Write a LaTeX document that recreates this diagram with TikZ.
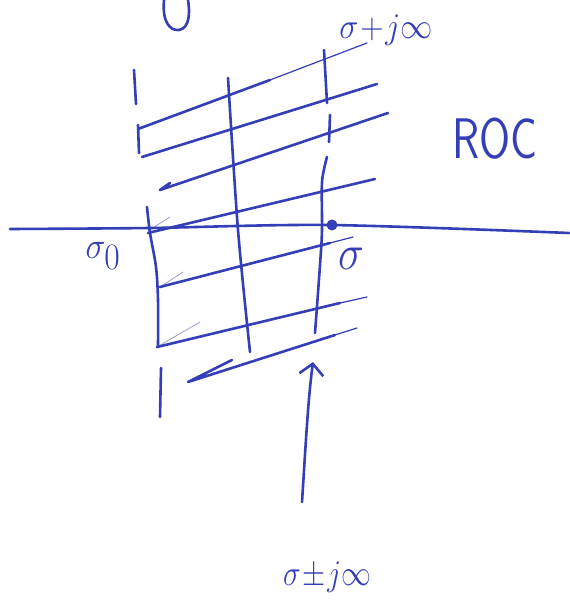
\documentclass[tikz,border=0pt]{standalone}
\usepackage{graphicx}
\usetikzlibrary{arrows.meta}
\definecolor{ink}{RGB}{52,62,182}
\begin{document}
\begin{tikzpicture}[x=1pt,y=-1pt,
  pen/.style={draw=ink,line width=2.6pt,line cap=round,line join=round},
  thinpen/.style={draw=ink,line width=1.2pt,line cap=round},
  faint/.style={draw=ink,line width=0.7pt,line cap=round,opacity=0.55},
  lbl/.style={text=ink,inner sep=0pt}]
\useasboundingbox[fill=white] (0,0) rectangle (569,601);

% loop of a letter cut off at the top edge
\draw[pen] (164,0) .. controls (162,22) and (170,31) .. (179,30)
               .. controls (190,28) and (190,12) .. (188,0);

% real axis
\draw[pen] plot[smooth] coordinates {(10,229) (150,228) (330,225) (569,233)};
\coordinate (sig) at (332,225);
\fill[ink] (sig) circle (5.5);

% left boundary of the strip
\draw[pen] (134,70) -- (136,104);
\draw[pen] (138,125) -- (139,153);
\draw[pen] plot[smooth] coordinates {(147,207) (150,233) (156,267) (158,300) (158,347)};
\draw[pen] (161,368) -- (160,417);

% middle vertical
\draw[pen] plot[smooth] coordinates {(228,78) (238,230) (250,352)};

% vertical line through sigma (broken)
\draw[pen] (324,50) -- (327,103);
\draw[pen] (330,115) -- (329,142);
\draw[pen] plot[smooth] coordinates {(327,157) (322,182) (322,230) (320,265) (315,333)};

% hatching of the region of convergence
\draw[pen] (138,129) -- (270,80);
\draw[thinpen] (270,80) -- (367,43);
\draw[pen] (142,157) -- (377,84);
\draw[pen] (170,183) -- (160,190) -- (388,113);
\draw[pen] (148,233) -- (375,179);
\draw[faint] (148,231) -- (170,217);
\draw[pen] (160,287) -- (330,243);
\draw[thinpen] (330,243) -- (353,237);
\draw[faint] (160,287) -- (183,272);
\draw[pen] (157,347) -- (340,303);
\draw[thinpen] (340,303) -- (367,297);
\draw[faint] (157,347) -- (200,322);
\draw[pen] (232,360) -- (188,382) -- (335,335);
\draw[thinpen] (335,335) -- (357,328);

% arrow pointing at the integration line
\coordinate (arrtail) at (302,502);
\coordinate (arrtip) at (313,362);
\draw[pen,-{Straight Barb[length=11pt,width=24pt,line width=2.6pt]}]
  (arrtail) .. controls (306,440) and (308,400) .. (arrtip);

% labels (\Huge is the largest size of the math fonts, so scale it)
\node[lbl] (top) at (386,30) {\scalebox{1.3}[1.45]{\Huge$\sigma\!+\!j\infty$}};
\node[lbl] (roc) at (495,139) {\scalebox{1.8}[2.3]{\Huge\sffamily ROC}};
\node[lbl] (s0) at (103,256) {\scalebox{1.35}[1.5]{\Huge$\sigma_{\textstyle 0}$}};
\node[lbl] (s) at (351,259) {\scalebox{1.75}[2.0]{\Huge$\sigma$}};
\node[lbl] (bot) at (327,577) {\scalebox{1.2}[1.45]{\Huge$\sigma\!\pm\! j\infty$}};
\end{tikzpicture}
\end{document}
